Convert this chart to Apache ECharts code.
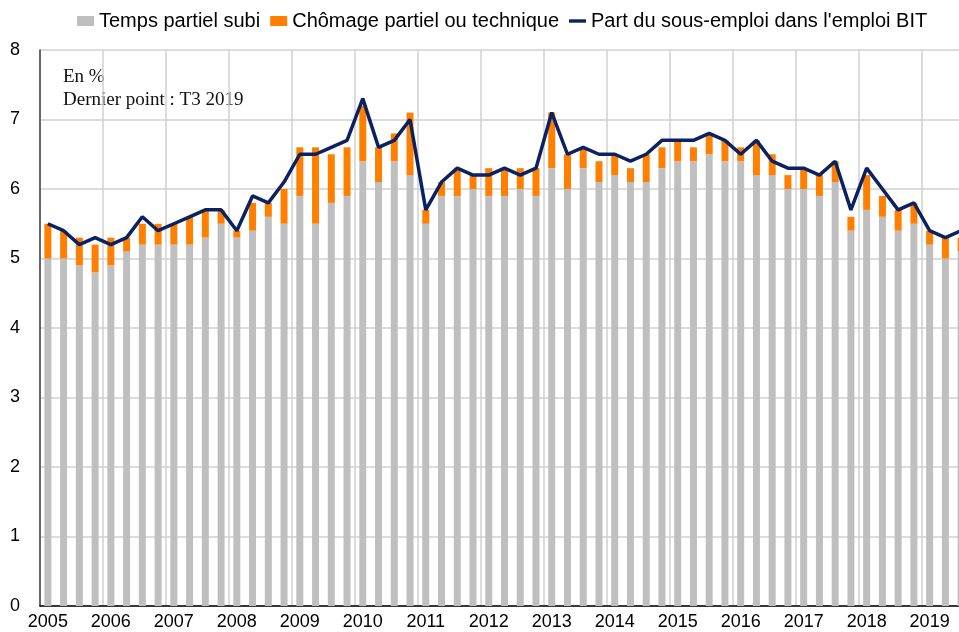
<!DOCTYPE html>
<html>
<head>
<meta charset="utf-8">
<script src="https://cdn.jsdelivr.net/npm/echarts@6/dist/echarts.min.js"></script>
<style>
html,body{margin:0;padding:0;background:#fff;}
#chart{width:959px;height:632px;}
</style>
</head>
<body>
<div id="chart"></div>
<script>
// Years shown on the axis (label at each Q1)
var years = ['2005','2006','2007','2008','2009','2010','2011','2012','2013','2014','2015','2016','2017','2018','2019'];
var quarters = ['T1','T2','T3','T4'];

// Temps partiel subi (grey bars), 2005 T1 .. 2019 T3
var tempsPartiel = [
  5.0, 5.0, 4.9, 4.8,
  4.9, 5.1, 5.2, 5.2,
  5.2, 5.2, 5.3, 5.5,
  5.3, 5.4, 5.6, 5.5,
  5.9, 5.5, 5.8, 5.9,
  6.4, 6.1, 6.4, 6.2,
  5.5, 5.9, 5.9, 6.0,
  5.9, 5.9, 6.0, 5.9,
  6.3, 6.0, 6.3, 6.1,
  6.2, 6.1, 6.1, 6.3,
  6.4, 6.4, 6.5, 6.4,
  6.4, 6.2, 6.2, 6.0,
  6.0, 5.9, 6.1, 5.4,
  5.7, 5.6, 5.4, 5.5,
  5.2, 5.0, 5.1
];

// Chômage partiel ou technique (orange bars, stacked)
var chomagePartiel = [
  0.5, 0.4, 0.4, 0.4,
  0.4, 0.2, 0.3, 0.3,
  0.3, 0.4, 0.4, 0.2,
  0.1, 0.4, 0.2, 0.5,
  0.7, 1.1, 0.7, 0.7,
  0.8, 0.5, 0.4, 0.9,
  0.2, 0.2, 0.4, 0.2,
  0.4, 0.4, 0.3, 0.4,
  0.8, 0.5, 0.3, 0.3,
  0.3, 0.2, 0.4, 0.3,
  0.3, 0.2, 0.3, 0.3,
  0.2, 0.5, 0.3, 0.2,
  0.3, 0.3, 0.3, 0.2,
  0.5, 0.3, 0.3, 0.3,
  0.2, 0.3, 0.2
];

// Part du sous-emploi dans l'emploi BIT (line)
var sousEmploi = [
  5.5, 5.4, 5.2, 5.3,
  5.2, 5.3, 5.6, 5.4,
  5.5, 5.6, 5.7, 5.7,
  5.4, 5.9, 5.8, 6.1,
  6.5, 6.5, 6.6, 6.7,
  7.3, 6.6, 6.7, 7.0,
  5.7, 6.1, 6.3, 6.2,
  6.2, 6.3, 6.2, 6.3,
  7.1, 6.5, 6.6, 6.5,
  6.5, 6.4, 6.5, 6.7,
  6.7, 6.7, 6.8, 6.7,
  6.5, 6.7, 6.4, 6.3,
  6.3, 6.2, 6.4, 5.7,
  6.3, 6.0, 5.7, 5.8,
  5.4, 5.3, 5.4
];

var yTicks = {min: 0, max: 8, interval: 1};

var categories = [];
for (var y = 0; y < years.length; y++) {
  for (var q = 0; q < 4; q++) {
    if (categories.length < tempsPartiel.length) categories.push(quarters[q] + ' ' + years[y]);
  }
}

var chart = echarts.init(document.getElementById('chart'), null, {renderer: 'canvas'});
var q1 = function (idx) { return idx % 4 === 0; };

chart.setOption({
  animation: false,
  backgroundColor: '#ffffff',
  textStyle: {fontFamily: 'Liberation Sans, Arial, sans-serif'},
  legend: {
    left: 72,
    top: 6,
    itemWidth: 17,
    itemHeight: 10,
    itemGap: 10,
    textStyle: {fontSize: 20, color: '#000', fontFamily: 'Liberation Sans, Arial, sans-serif'},
    data: [
      {name: 'Temps partiel subi', icon: 'rect'},
      {name: 'Chômage partiel ou technique', icon: 'rect'},
      {name: "Part du sous-emploi dans l'emploi BIT", icon: 'path://M0,0 L20,0 L20,4 L0,4 Z', itemStyle: {color: '#0B2161'}}
    ]
  },
  grid: {left: 40, right: -10, top: 50, bottom: 26, containLabel: false, outerBoundsMode: 'none'},
  graphic: [
    {type: 'text', left: 63, top: 68, style: {text: 'En %', font: '19px "Liberation Serif", "Times New Roman", serif', fill: '#111'}},
    {type: 'text', left: 63, top: 91, style: {text: 'Dernier point : T3 2019', font: '19px "Liberation Serif", "Times New Roman", serif', fill: '#111'}}
  ],
  xAxis: {
    type: 'category',
    data: categories,
    boundaryGap: true,
    axisLine: {show: true, lineStyle: {color: '#000', width: 1.5}},
    axisTick: {show: false},
    axisLabel: {
      interval: q1,
      formatter: function (v) { return v.split(' ')[1]; },
      fontSize: 18,
      color: '#000',
      margin: 7
    },
    splitLine: {show: true, interval: q1, lineStyle: {color: '#D0D0D0', width: 1.5}}
  },
  yAxis: {
    type: 'value',
    min: yTicks.min,
    max: yTicks.max,
    interval: yTicks.interval,
    axisLine: {show: true, lineStyle: {color: '#404040', width: 1.5}},
    axisTick: {show: false},
    axisLabel: {fontSize: 18, color: '#000', margin: 20},
    splitLine: {show: true, lineStyle: {color: '#D0D0D0', width: 1.5}}
  },
  series: [
    {
      name: 'Temps partiel subi',
      type: 'bar',
      stack: 'total',
      barWidth: 7,
      itemStyle: {color: '#BFBFBF'},
      data: tempsPartiel
    },
    {
      name: 'Chômage partiel ou technique',
      type: 'bar',
      stack: 'total',
      barWidth: 7,
      itemStyle: {color: '#FF7F00'},
      data: chomagePartiel
    },
    {
      name: "Part du sous-emploi dans l'emploi BIT",
      type: 'line',
      symbol: 'none',
      showSymbol: false,
      lineStyle: {color: '#0B2161', width: 3.5},
      itemStyle: {color: '#0B2161'},
      z: 5,
      data: sousEmploi
    }
  ]
});
</script>
</body>
</html>
